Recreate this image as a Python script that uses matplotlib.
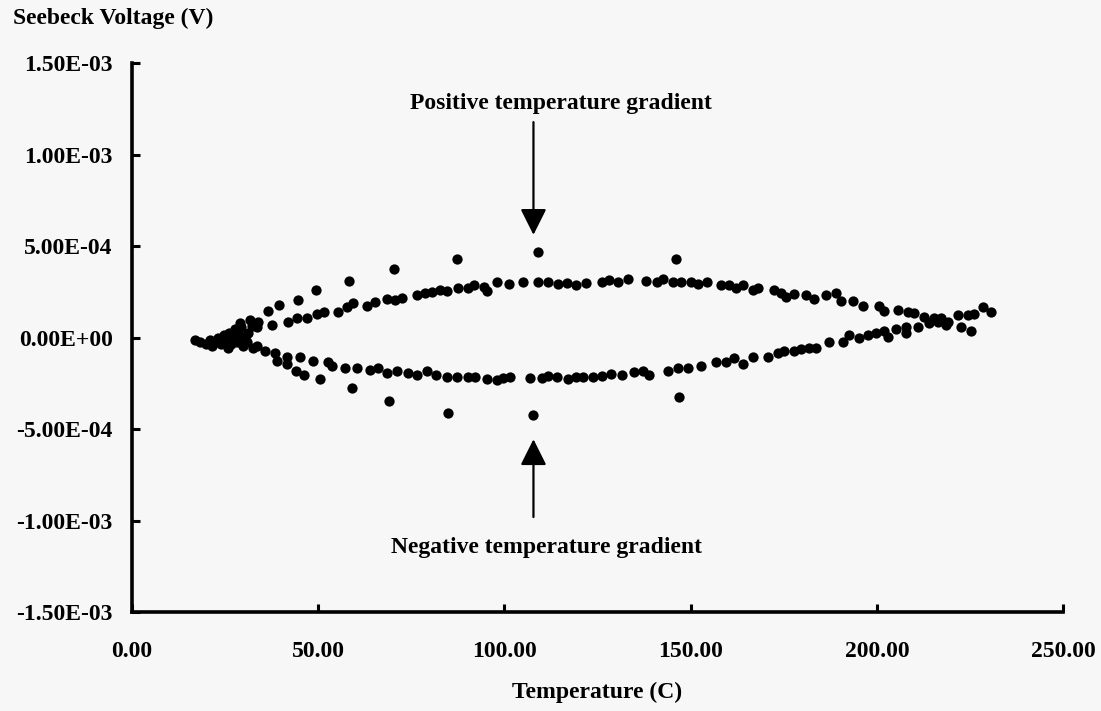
import matplotlib
matplotlib.use("Agg")
import matplotlib.pyplot as plt
from matplotlib.ticker import FuncFormatter

plt.rcParams['font.family'] = ['Liberation Serif', 'DejaVu Serif']
plt.rcParams['font.weight'] = 'bold'

# readings taken off the scanned chart (temperature in C, voltage in 1e-4 V)
# crowded start near room temperature
start_T = [16.9, 18.3, 19.9, 21.0, 22.0, 23.1, 23.9, 24.7, 25.3, 26.1, 26.6, 27.2,
           27.7, 28.2, 28.8, 29.3, 29.8, 30.4, 31.2, 32.3, 32.5, 33.9, 25.8, 21.5]
start_V = [-0.16, -0.27, -0.33, -0.11, -0.27, 0.0, -0.33, 0.11, -0.16, 0.27, -0.38, 0.0,
           0.44, -0.22, 0.16, 0.55, -0.44, 0.0, 0.27, 0.65, -0.60, 0.87, -0.55, -0.44]

# upper branch (positive gradient)
upper_T = [33.6, 31.7, 29.0, 37.6, 41.9, 44.4, 47.0, 49.7, 51.6, 55.4, 57.8, 59.4,
           63.2, 65.3, 68.5, 70.7, 72.6, 76.6, 78.8, 80.6, 82.8, 84.7, 87.6, 90.1,
           91.7, 94.4, 95.2, 98.1, 101.3, 105.1, 109.1, 111.8, 114.5, 116.9, 119.1, 121.8,
           126.3, 128.0, 130.4, 133.1, 137.9, 141.1, 142.7, 145.2, 147.3, 150.0, 151.9, 154.3,
           158.1, 160.2, 162.1, 164.0, 166.7, 168.0, 172.3, 174.2, 175.5, 177.7, 180.9, 183.1,
           186.3, 189.0, 190.3, 193.5, 196.2, 200.5, 201.9, 205.6, 208.3, 209.9, 212.6, 215.3,
           217.2, 219.1, 221.8, 224.5, 226.1, 228.5, 230.6]
upper_V = [0.55, 0.98, 0.82, 0.71, 0.87, 1.04, 1.09, 1.31, 1.42, 1.42, 1.64, 1.91,
           1.74, 1.96, 2.13, 2.07, 2.18, 2.34, 2.45, 2.51, 2.62, 2.56, 2.73, 2.73,
           2.89, 2.78, 2.56, 3.05, 2.94, 3.05, 3.05, 3.05, 2.94, 3.00, 2.89, 3.00,
           3.05, 3.16, 3.05, 3.22, 3.11, 3.05, 3.22, 3.05, 3.05, 3.05, 2.94, 3.05,
           2.89, 2.89, 2.73, 2.89, 2.62, 2.73, 2.62, 2.45, 2.23, 2.40, 2.34, 2.13,
           2.34, 2.45, 2.02, 2.02, 1.74, 1.74, 1.47, 1.53, 1.42, 1.36, 1.14, 1.04,
           1.04, 0.87, 1.25, 1.25, 1.31, 1.64, 1.42]

# lower branch (negative gradient)
lower_T = [30.9, 33.6, 35.8, 38.4, 39.0, 41.7, 41.7, 45.2, 44.1, 46.2, 48.7, 52.7,
           53.8, 57.3, 60.5, 64.0, 66.1, 68.5, 71.2, 74.2, 76.6, 79.3, 81.5, 84.7,
           87.4, 90.1, 92.2, 95.2, 98.1, 99.7, 101.6, 107.0, 110.2, 111.6, 114.2, 117.2,
           119.1, 121.2, 123.9, 126.3, 128.5, 131.7, 134.7, 137.1, 138.7, 143.8, 146.5, 149.2,
           152.7, 156.7, 159.4, 161.6, 164.2, 166.7, 170.7, 173.4, 175.0, 177.7, 179.6, 181.7,
           183.6, 187.1, 190.9, 192.5, 195.2, 197.6, 199.7, 201.9, 203.0, 205.1, 207.8, 207.8,
           211.0, 214.0, 216.4, 218.5, 222.6, 225.3]
lower_V = [-0.22, -0.49, -0.76, -0.82, -1.31, -1.04, -1.47, -1.09, -1.85, -2.07, -1.31, -1.36,
           -1.58, -1.64, -1.64, -1.80, -1.64, -1.96, -1.85, -1.96, -2.07, -1.85, -2.07, -2.18,
           -2.18, -2.18, -2.18, -2.29, -2.34, -2.23, -2.18, -2.23, -2.23, -2.13, -2.18, -2.29,
           -2.18, -2.18, -2.18, -2.13, -2.02, -2.07, -1.91, -1.85, -2.07, -1.85, -1.64, -1.69,
           -1.53, -1.36, -1.36, -1.14, -1.47, -1.04, -1.04, -0.82, -0.76, -0.71, -0.65, -0.55,
           -0.55, -0.27, -0.27, 0.11, -0.05, 0.16, 0.27, 0.38, 0.05, 0.49, 0.60, 0.22,
           0.60, 0.82, 0.87, 0.71, 0.60, 0.33]

# scattered points outside the two branches
outer_T = [36.6, 39.5, 44.6, 49.5, 58.3, 70.4, 87.4, 109.1, 146.0,
           50.5, 59.1, 69.1, 84.9, 107.8, 146.8]
outer_V = [1.47, 1.80, 2.07, 2.62, 3.11, 3.76, 4.31, 4.69, 4.31,
           -2.29, -2.78, -3.49, -4.14, -4.25, -3.27]

x_ticks = [0, 50, 100, 150, 200, 250]
y_ticks = [-1.5e-3, -1.0e-3, -5.0e-4, 0.0, 5.0e-4, 1.0e-3, 1.5e-3]

bg = '#f7f7f7'
fig = plt.figure(figsize=(11.01, 7.11), dpi=100, facecolor=bg)
ax = fig.add_axes([0.1199, 0.1392, 0.8456, 0.7722], facecolor=bg)

for T, V in [(start_T, start_V), (upper_T, upper_V), (lower_T, lower_V), (outer_T, outer_V)]:
    ax.plot(T, [v * 1e-4 for v in V], 'o', color='black', markersize=7.4,
            markeredgewidth=0, clip_on=False)

ax.set_xlim(0, 250)
ax.set_ylim(-1.5e-3, 1.5e-3)
ax.set_xticks(x_ticks)
ax.set_yticks(y_ticks)
ax.xaxis.set_major_formatter(FuncFormatter(lambda v, p: '{:.2f}'.format(v)))
ax.yaxis.set_major_formatter(FuncFormatter(lambda v, p: '{:.2E}'.format(v)))

for s in ['top', 'right']:
    ax.spines[s].set_visible(False)
for s in ['left', 'bottom']:
    ax.spines[s].set_linewidth(2.6)
ax.tick_params(axis='both', direction='in', length=6, width=2.2, labelsize=17)
ax.tick_params(axis='y', pad=14)
ax.tick_params(axis='x', pad=21)

ax.set_xlabel('Temperature (C)', fontsize=17, fontweight='bold', labelpad=14)
fig.text(0.012, 1 - 18 / 711, 'Seebeck Voltage (V)', fontsize=17, fontweight='bold',
         ha='left', va='center')

arrow = dict(arrowstyle='-|>,head_length=0.8,head_width=0.4', mutation_scale=20,
             lw=1.6, color='black', shrinkA=0, shrinkB=0)
ax.annotate('', xy=(107.8, 5.61e-4), xytext=(107.8, 11.77e-4), arrowprops=arrow)
ax.annotate('', xy=(107.8, -5.56e-4), xytext=(107.8, -9.81e-4), arrowprops=arrow)
ax.text(115.3, 12.8e-4, 'Positive temperature gradient', fontsize=17, fontweight='bold',
        ha='center', va='center')
ax.text(111.3, -11.45e-4, 'Negative temperature gradient', fontsize=17, fontweight='bold',
        ha='center', va='center')

fig.savefig('out.png', dpi=100, facecolor=bg)
